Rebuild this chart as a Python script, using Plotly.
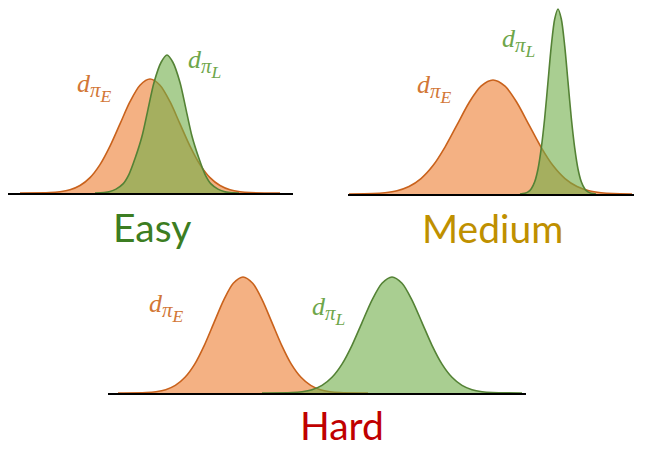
import plotly.graph_objects as go

# Easy panel: expert (orange) and learner (green) state distributions
easy_e_x = [12, 42, 52, 62, 72, 82, 92, 102, 112, 122, 132, 142, 152, 162, 172, 182, 192, 202, 212, 222, 232, 242, 272]
easy_e_y = [0, 0.4, 1.3, 3.3, 7.5, 15.4, 28.4, 46.9, 69.1, 91.3, 107.8, 114, 107.8, 91.3, 69.1, 46.9, 28.4, 15.4, 7.5, 3.3, 1.3, 0.4, 0]
easy_l_x = [87, 96, 102, 108, 115, 121, 127, 134, 140, 146, 153, 159, 165, 172, 178, 184, 191, 197, 203, 210, 216, 222, 231]
easy_l_y = [0, 0.5, 1.5, 3.9, 9.1, 18.7, 34.4, 56.7, 83.7, 110.5, 130.5, 138, 130.5, 110.5, 83.7, 56.7, 34.4, 18.7, 9.1, 3.9, 1.5, 0.5, 0]

# Medium panel
med_e_x = [1, 25, 37, 49, 61, 73, 85, 97, 109, 121, 133, 145, 157, 169, 181, 193, 205, 217, 229, 241, 253, 265, 284]
med_e_y = [0, 0.4, 1.3, 3.3, 7.5, 15.4, 28.4, 46.9, 69.1, 91.3, 107.8, 114, 107.8, 91.3, 69.1, 46.9, 28.4, 15.4, 7.5, 3.3, 1.3, 0.4, 0]
med_l_x = [172, 176.7, 180, 183.3, 186.7, 190, 193.3, 196.7, 200, 203.3, 206.7, 210, 213.3, 216.7, 220, 223.3, 226.7, 230, 233.3, 236.7, 240, 243.3, 248]
med_l_y = [0, 0.7, 2.1, 5.3, 12.2, 25, 46.1, 76, 112.2, 148.2, 175, 185, 175, 148.2, 112.2, 76, 46.1, 25, 12.2, 5.3, 2.1, 0.7, 0]

# Hard panel
hard_e_x = [10, 38.3, 48, 57.7, 67.3, 77, 86.7, 96.3, 106, 115.7, 125.3, 135, 144.7, 154.3, 164, 173.7, 183.3, 193, 202.7, 212.3, 222, 231.7, 260]
hard_e_y = [0, 0.45, 1.3, 3.3, 7.6, 15.7, 28.9, 47.7, 70.4, 92.9, 109.7, 116, 109.7, 92.9, 70.4, 47.7, 28.9, 15.7, 7.6, 3.3, 1.3, 0.45, 0]
hard_l_x = [154, 184, 194, 204, 214, 224, 234, 244, 254, 264, 274, 284, 294, 304, 314, 324, 334, 344, 354, 364, 374, 384, 414]
hard_l_y = [0, 0.45, 1.3, 3.3, 7.6, 15.7, 28.9, 47.7, 70.4, 92.9, 109.7, 116, 109.7, 92.9, 70.4, 47.7, 28.9, 15.7, 7.6, 3.3, 1.3, 0.45, 0]

panel_names = ["Easy", "Medium", "Hard"]
panel_colors = ["#3c7d22", "#bf9000", "#c00000"]

ORANGE_FILL = "rgba(237,125,49,0.6)"
ORANGE_LINE = "#c9621c"
GREEN_FILL = "rgba(112,173,71,0.6)"
GREEN_LINE = "#548235"

W, H = 645, 453

fig = go.Figure()


def add_curve(x, y, fill, line, axis):
    fig.add_trace(go.Scatter(
        x=x, y=y, mode="lines", fill="tozeroy", fillcolor=fill,
        line=dict(color=line, width=1.6, shape="spline", smoothing=0.8),
        xaxis="x" + axis, yaxis="y" + axis, hoverinfo="skip", showlegend=False
    ))


add_curve(easy_e_x, easy_e_y, ORANGE_FILL, ORANGE_LINE, "")
add_curve(easy_l_x, easy_l_y, GREEN_FILL, GREEN_LINE, "")
add_curve(med_e_x, med_e_y, ORANGE_FILL, ORANGE_LINE, "2")
add_curve(med_l_x, med_l_y, GREEN_FILL, GREEN_LINE, "2")
add_curve(hard_e_x, hard_e_y, ORANGE_FILL, ORANGE_LINE, "3")
add_curve(hard_l_x, hard_l_y, GREEN_FILL, GREEN_LINE, "3")

# panel placement in pixels: left, right, baseline, top
panels = [(8, 293, 193, 0), (348, 634, 194, 0), (108, 526, 393, 260)]


def ax(left, right, base, top, anchor):
    xa = dict(domain=[left / W, right / W], range=[0, right - left], showgrid=False,
              zeroline=False, showticklabels=False, ticks="", showline=True,
              linecolor="black", linewidth=2, anchor=anchor, fixedrange=True)
    ya = dict(domain=[1 - base / H, 1 - top / H], range=[0, base - top], showgrid=False,
              zeroline=False, showticklabels=False, ticks="", showline=False,
              anchor=anchor.replace("y", "x"), fixedrange=True)
    return xa, ya


layout = {}
for i, (l, r, b, t) in enumerate(panels):
    suf = "" if i == 0 else str(i + 1)
    xa, ya = ax(l, r, b, t, "y" + suf)
    layout["xaxis" + suf] = xa
    layout["yaxis" + suf] = ya


def dist_label(sub):
    return ("<i>d</i><sub><span style='font-size:115%'><i>π</i>"
            "<sub><span style='font-size:120%'><i>" + sub + "</i></span></sub></span></sub>")


lab_e = dist_label("E")
lab_l = dist_label("L")
lab_font = dict(family="Liberation Serif", size=26)
annotations = [
    dict(text=lab_e, x=86, y=106, xref="x", yref="y", font=dict(lab_font, color="#d27736")),
    dict(text=lab_l, x=196, y=130, xref="x", yref="y", font=dict(lab_font, color="#6ea64a")),
    dict(text=lab_e, x=86, y=106, xref="x2", yref="y2", font=dict(lab_font, color="#d27736")),
    dict(text=lab_l, x=170, y=152, xref="x2", yref="y2", font=dict(lab_font, color="#6ea64a")),
    dict(text=lab_e, x=58, y=86, xref="x3", yref="y3", font=dict(lab_font, color="#d27736")),
    dict(text=lab_l, x=220, y=83, xref="x3", yref="y3", font=dict(lab_font, color="#6ea64a")),
]
name_pos = [(152, 227), (492, 228), (342, 425)]
for name, col, (px_, py_) in zip(panel_names, panel_colors, name_pos):
    annotations.append(dict(text=name, x=px_ / W, y=1 - py_ / H, xref="paper", yref="paper",
                            font=dict(family="Lato", size=39, color=col)))
for a in annotations:
    a.update(showarrow=False, xanchor="center", yanchor="middle")

fig.update_layout(
    width=W, height=H, autosize=False,
    margin=dict(l=0, r=0, t=0, b=0),
    paper_bgcolor="white", plot_bgcolor="rgba(0,0,0,0)",
    annotations=annotations,
    **layout
)

fig.write_html("out.html", config={"displayModeBar": False},
               post_script="document.body.style.margin='0px';document.body.style.overflow='hidden';")
